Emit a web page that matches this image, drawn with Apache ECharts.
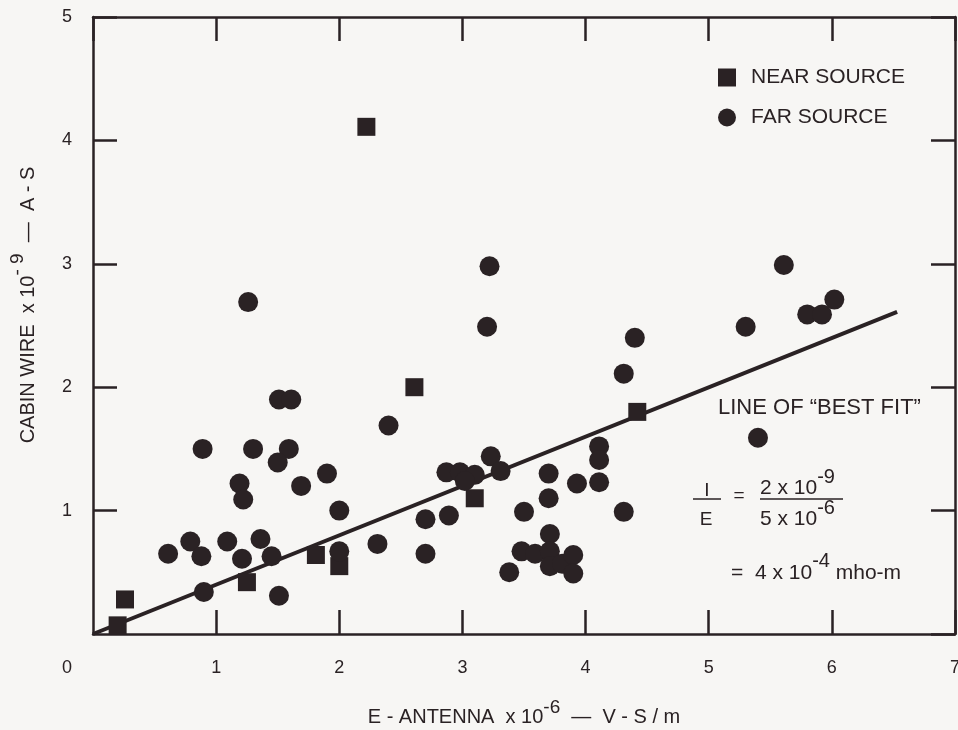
<!DOCTYPE html>
<html>
<head>
<meta charset="utf-8">
<script src="https://cdn.jsdelivr.net/npm/echarts@6/dist/echarts.min.js"></script>
<style>
    html, body { margin: 0; padding: 0; background: #f7f6f4; }
    #chart { width: 958px; height: 730px; }
</style>
</head>
<body>
<div id="chart"></div>
<script>
// near source (squares)
var nearX = [2.22, 2.61, 1.81, 1.25, 0.26, 0.20, 2.00, 3.10, 4.42];
var nearY = [4.11, 2.00, 0.64, 0.42, 0.28, 0.07, 0.55, 1.10, 1.80];

// far source (circles)
var farX = [1.26, 3.22, 3.20, 1.51, 1.61, 0.89, 1.30, 1.59, 1.50, 1.90,
    1.69, 1.19, 1.22, 2.00, 0.61, 0.79, 0.88, 1.09, 1.36, 1.21,
    1.45, 0.90, 1.51, 2.00, 2.40, 2.31, 2.70, 2.70, 2.89, 2.87,
    2.98, 3.10, 3.02, 3.23, 3.31, 3.50, 3.70, 3.70, 3.93, 3.71,
    3.48, 3.59, 3.71, 3.71, 3.81, 3.90, 3.90, 3.38, 4.11, 4.11,
    4.11, 4.31, 4.31, 4.40, 5.40, 5.61, 5.30, 5.80, 5.92, 6.02];
var farY = [2.69, 2.98, 2.49, 1.90, 1.90, 1.50, 1.50, 1.50, 1.39, 1.30,
    1.20, 1.22, 1.09, 1.00, 0.65, 0.75, 0.63, 0.75, 0.77, 0.61,
    0.63, 0.34, 0.31, 0.67, 1.69, 0.73, 0.93, 0.65, 0.96, 1.31,
    1.31, 1.29, 1.24, 1.44, 1.32, 0.99, 1.30, 1.10, 1.22, 0.81,
    0.67, 0.65, 0.67, 0.55, 0.57, 0.64, 0.49, 0.50, 1.52, 1.41,
    1.23, 0.99, 2.11, 2.40, 1.59, 2.99, 2.49, 2.59, 2.59, 2.71];

// line of "best fit", end points
var fitX = [0, 6.53];
var fitY = [0, 2.61];

var xTicks = [0, 1, 2, 3, 4, 5, 6, 7];
var yTicks = [0, 1, 2, 3, 4, 5];

var ink = '#2a2224';
var font = 'Liberation Sans, Arial, Helvetica, sans-serif';

var pairs = function (xs, ys) {
    return xs.map(function (x, i) {
        return [x, ys[i]];
    });
};

var makeRich = function (size, raise) {
    return {
        n: {fontSize: size, fontFamily: font, color: ink, fill: ink},
        s: {fontSize: size - 1, fontFamily: font, color: ink, fill: ink, padding: [0, 0, raise * 2, 0]}
    };
};

var frameAxis = function (extra) {
    var base = {
        type: 'value',
        splitLine: {show: false},
        axisLine: {show: true, onZero: false, lineStyle: {color: ink, width: 2.5}},
        axisTick: {show: true, inside: true, length: 24, lineStyle: {color: ink, width: 2.5}},
        axisLabel: {show: false}
    };
    for (var k in extra) {
        base[k] = extra[k];
    }
    return base;
};

var myChart = echarts.init(document.getElementById('chart'));

var option = {
    backgroundColor: '#f7f6f4',
    animation: false,
    grid: {left: 93, right: 3, top: 17, bottom: 96, containLabel: false, outerBoundsMode: 'none'},
    legend: {
        orient: 'vertical',
        left: 718,
        top: 67,
        padding: 0,
        itemWidth: 18,
        itemHeight: 18,
        itemGap: 19,
        textStyle: {fontSize: 21, fontFamily: font, color: ink, padding: [0, 0, 0, 10]},
        data: [
            {name: 'NEAR SOURCE', icon: 'rect'},
            {name: 'FAR SOURCE', icon: 'circle'}
        ]
    },
    xAxis: [
        frameAxis({
            min: xTicks[0], max: xTicks[xTicks.length - 1], interval: 1,
            position: 'bottom',
            name: '{n|E - ANTENNA  x 10}{s|-6}{n|  —  V - S / m}',
            nameLocation: 'middle',
            nameGap: 64,
            nameTextStyle: {rich: makeRich(20, 10)},
            axisLabel: {show: true, showMinLabel: false, margin: 25, fontSize: 18, fontFamily: font, color: ink}
        }),
        frameAxis({min: xTicks[0], max: xTicks[xTicks.length - 1], interval: 1, position: 'top'})
    ],
    yAxis: [
        frameAxis({
            min: yTicks[0], max: yTicks[yTicks.length - 1], interval: 1,
            position: 'left',
            axisLabel: {show: true, showMinLabel: false, margin: 21, fontSize: 18, fontFamily: font, color: ink}
        }),
        frameAxis({min: yTicks[0], max: yTicks[yTicks.length - 1], interval: 1, position: 'right'})
    ],
    graphic: [
        {type: 'text', x: 67, y: 668, style: {text: '0', font: '18px ' + font, fill: ink, align: 'center', verticalAlign: 'middle'}},
        {
            type: 'text', x: 28, y: 305, rotation: Math.PI / 2,
            style: {text: '{n|CABIN WIRE  x 10}{s|- 9}{n|  —  A - S}', rich: makeRich(20, 10), align: 'center', verticalAlign: 'middle'}
        },
        {type: 'text', x: 718, y: 408, style: {text: 'LINE OF \u201CBEST FIT\u201D', font: '22px ' + font, fill: ink, align: 'left', verticalAlign: 'middle'}},
        {type: 'text', x: 707, y: 491, style: {text: 'I', font: '19px ' + font, fill: ink, align: 'center', verticalAlign: 'middle'}},
        {type: 'text', x: 706, y: 520, style: {text: 'E', font: '19px ' + font, fill: ink, align: 'center', verticalAlign: 'middle'}},
        {type: 'line', shape: {x1: 693, y1: 499, x2: 721, y2: 499}, style: {stroke: ink, lineWidth: 1.5}},
        {type: 'text', x: 739, y: 496, style: {text: '=', font: '19px ' + font, fill: ink, align: 'center', verticalAlign: 'middle'}},
        {type: 'text', x: 760, y: 488, style: {text: '{n|2 x 10}{s|-9}', rich: makeRich(21, 11), align: 'left', verticalAlign: 'middle'}},
        {type: 'line', shape: {x1: 760, y1: 499, x2: 843, y2: 499}, style: {stroke: ink, lineWidth: 1.5}},
        {type: 'text', x: 760, y: 519, style: {text: '{n|5 x 10}{s|-6}', rich: makeRich(21, 11), align: 'left', verticalAlign: 'middle'}},
        {type: 'text', x: 731, y: 573, style: {text: '{n|=  4 x 10}{s|-4}{n| mho-m}', rich: makeRich(21, 12), align: 'left', verticalAlign: 'middle'}}
    ],
    series: [{
        name: 'best fit',
        type: 'line',
        data: pairs(fitX, fitY),
        symbol: 'none',
        z: 1,
        lineStyle: {color: ink, width: 4},
        silent: true
    }, {
        name: 'NEAR SOURCE',
        type: 'scatter',
        data: pairs(nearX, nearY),
        symbol: 'rect',
        symbolSize: 18,
        z: 3,
        itemStyle: {color: ink, opacity: 1}
    }, {
        name: 'FAR SOURCE',
        type: 'scatter',
        data: pairs(farX, farY),
        symbol: 'circle',
        symbolSize: 20,
        z: 3,
        itemStyle: {color: ink, opacity: 1}
    }]
};

myChart.setOption(option);
</script>
</body>
</html>
